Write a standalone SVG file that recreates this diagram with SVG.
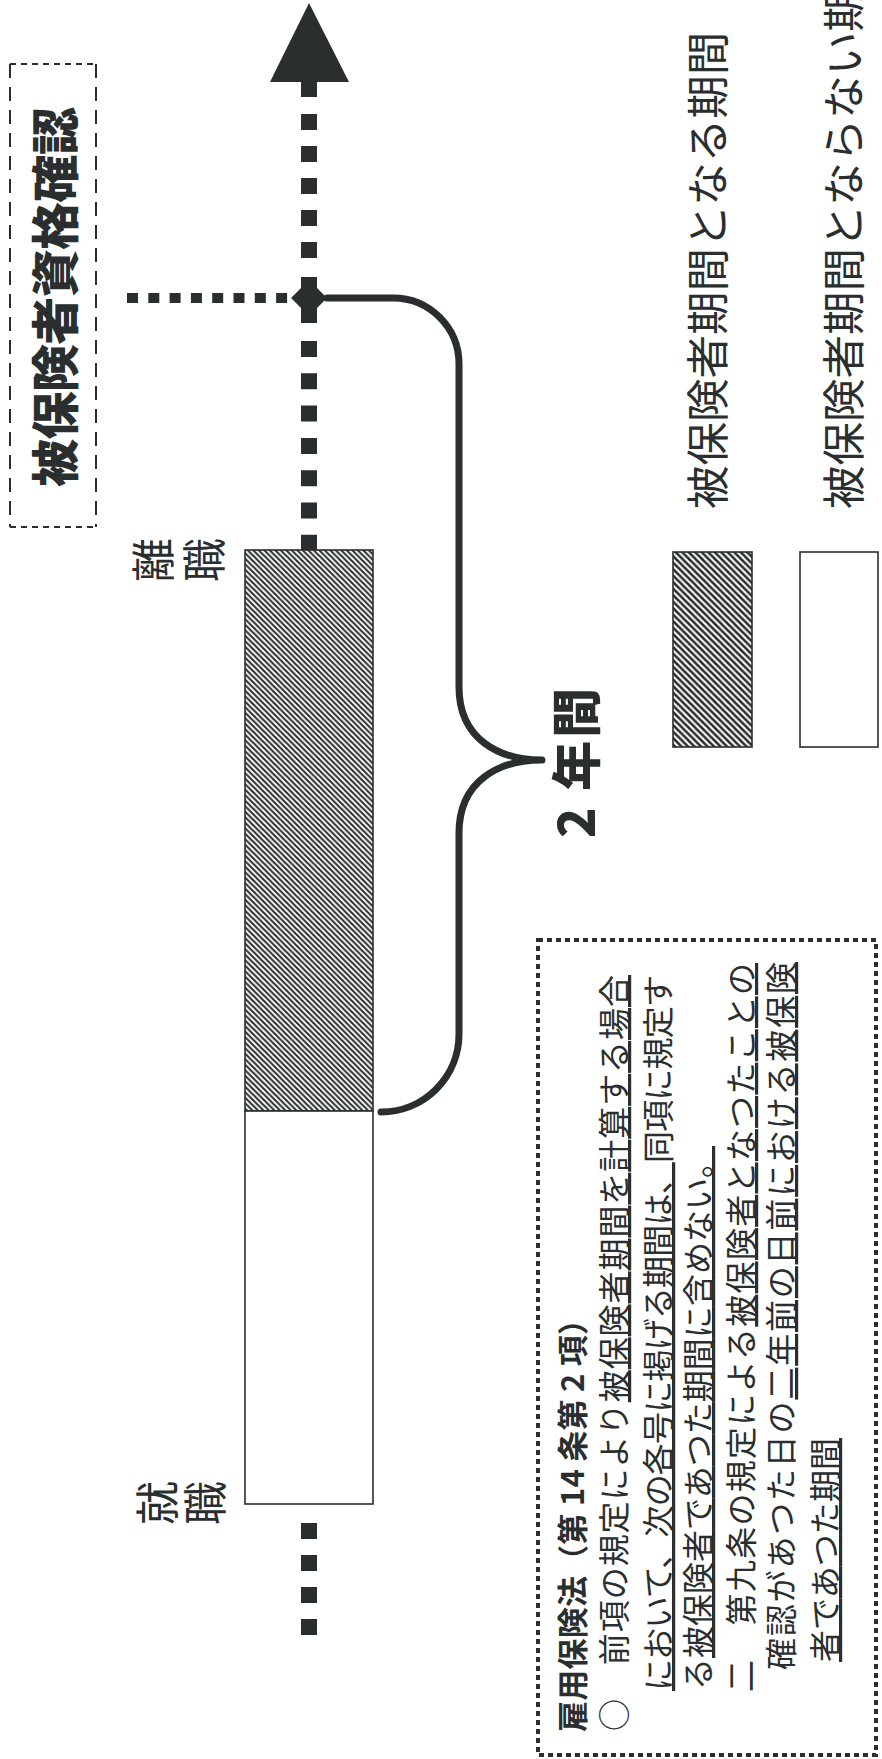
<svg xmlns="http://www.w3.org/2000/svg" width="882" height="1759" viewBox="0 0 882 1759">
<defs>
<style>
.ink{fill:#2a2e2f}
.jp{font-family:"Noto Sans CJK JP","Noto Sans CJK SC",sans-serif;fill:#2a2e2f}
.title{font-size:48px;font-weight:900}
.leg{font-size:43.5px;font-weight:400}
.lbl{font-size:44px;font-weight:400}
.big{font-size:50px;font-weight:900}
.body{font-size:32px;font-weight:400}
.head{font-size:31px;font-weight:700}
.u{text-decoration:underline}
.axis{stroke:#2a2e2f;stroke-width:16;fill:none}
.brace{stroke:#2a2e2f;stroke-width:7;fill:none;stroke-linecap:round;stroke-linejoin:round}
.box{stroke:#2a2e2f;stroke-width:1.6}
</style>
<pattern id="hatch" patternUnits="userSpaceOnUse" width="5.5" height="5.5">
<rect width="5.5" height="5.5" fill="#ffffff"/>
<path d="M-1,-1 L6.5,6.5 M-1,4.5 L1,6.5 M4.5,-1 L6.5,1" stroke="#2a2e2f" stroke-width="2.1"/>
</pattern>
<pattern id="hatch2" patternUnits="userSpaceOnUse" width="6.5" height="6.5">
<rect width="6.5" height="6.5" fill="#ffffff"/>
<path d="M-1,-1 L7.5,7.5 M-1,5.5 L1,7.5 M5.5,-1 L7.5,1" stroke="#2a2e2f" stroke-width="2.5"/>
</pattern>
</defs>
<rect width="882" height="1759" fill="#ffffff"/>

<g id="title-box">
<g stroke="#2a2e2f" stroke-width="2" fill="none">
<line x1="10" y1="64" x2="96" y2="64" stroke-dasharray="6 5"/>
<line x1="10" y1="527" x2="96" y2="527" stroke-dasharray="6 5"/>
<line x1="10" y1="64" x2="10" y2="527" stroke-dasharray="14 9"/>
<line x1="96" y1="64" x2="96" y2="527" stroke-dasharray="14 9"/>
</g>
<text class="jp title" transform="translate(73,297) rotate(-90)" text-anchor="middle" textLength="380" lengthAdjust="spacing">被保険者資格確認</text>
</g>

<g id="connectors">
<polygon class="ink" points="309,3 270,82 349,82"/>
<rect class="ink" x="301" y="80" width="16" height="17"/>
<line class="axis" x1="309" y1="114" x2="309" y2="259" stroke-dasharray="16 16"/>
<rect class="ink" x="301" y="277" width="16" height="46"/>
<polygon class="ink" points="291,298 309,280 327,298 309,316"/>
<line x1="127" y1="298" x2="289" y2="298" stroke="#2a2e2f" stroke-width="10" stroke-dasharray="11 10.3"/>
<line class="axis" x1="309" y1="341" x2="309" y2="551" stroke-dasharray="16 16.3"/>
<line class="axis" x1="309" y1="1523" x2="309" y2="1635" stroke-dasharray="16 16"/>
<path class="brace" d="M327 298 H393 A66 66 0 0 1 459 364 V687 C459 740 500 760 542 760 C500 760 459 780 459 833 V1034 A78 78 0 0 1 381 1112"/>
</g>

<g id="bar-insured">
<rect class="box" x="245" y="550" width="128" height="561" fill="url(#hatch)"/>
</g>
<g id="bar-not-insured">
<rect class="box" x="245" y="1111" width="128" height="393" fill="#ffffff"/>
</g>

<g id="label-leave">
<text class="jp lbl" transform="translate(170,560) rotate(-90)" text-anchor="middle">離</text>
<text class="jp lbl" transform="translate(221,560) rotate(-90)" text-anchor="middle">職</text>
</g>
<g id="label-join">
<text class="jp lbl" transform="translate(174,1503) rotate(-90)" text-anchor="middle">就</text>
<text class="jp lbl" transform="translate(222,1503) rotate(-90)" text-anchor="middle">職</text>
</g>

<g id="label-2years">
<text class="jp big" transform="translate(595,838) rotate(-90)" textLength="150" lengthAdjust="spacing">2 年間</text>
</g>

<g id="legend">
<rect class="box" x="673" y="552" width="79" height="195" fill="url(#hatch2)"/>
<rect class="box" x="800" y="552" width="78" height="195" fill="#ffffff"/>
<text class="jp leg" transform="translate(723.5,509) rotate(-90)">被保険者期間となる期間</text>
<text class="jp leg" transform="translate(859.5,509) rotate(-90)">被保険者期間とならない期間</text>
</g>

<g id="law-box">
<rect x="538" y="940" width="338" height="815" fill="none" stroke="#2a2e2f" stroke-width="4" stroke-dasharray="5 4"/>
<text class="jp head" transform="translate(584,1732) rotate(-90)" textLength="428" lengthAdjust="spacing">雇用保険法（第 14 条第 2 項）</text>
<text class="jp body" transform="translate(626,1731) rotate(-90)" textLength="756" lengthAdjust="spacing">○　前項の規定により<tspan class="u">被保険者期間を計算する場合</tspan></text>
<text class="jp body" transform="translate(670,1691) rotate(-90)" textLength="716" lengthAdjust="spacing"><tspan class="u">において、次の各号に掲げる期間は、</tspan>同項に規定す</text>
<text class="jp body" transform="translate(710,1690) rotate(-90)" textLength="544" lengthAdjust="spacing">る<tspan class="u">被保険者であつた期間に含めない。</tspan></text>
<text class="jp body" transform="translate(753,1692) rotate(-90)" textLength="729" lengthAdjust="spacing">二　第九条の規定による<tspan class="u">被保険者となつたことの</tspan></text>
<text class="jp body" transform="translate(793,1670) rotate(-90)" textLength="708" lengthAdjust="spacing">確認があつた日の<tspan class="u">二年前の日前における被保険</tspan></text>
<text class="jp body" transform="translate(837,1662) rotate(-90)" textLength="224" lengthAdjust="spacing"><tspan class="u">者であつた期間</tspan></text>
</g>
</svg>
